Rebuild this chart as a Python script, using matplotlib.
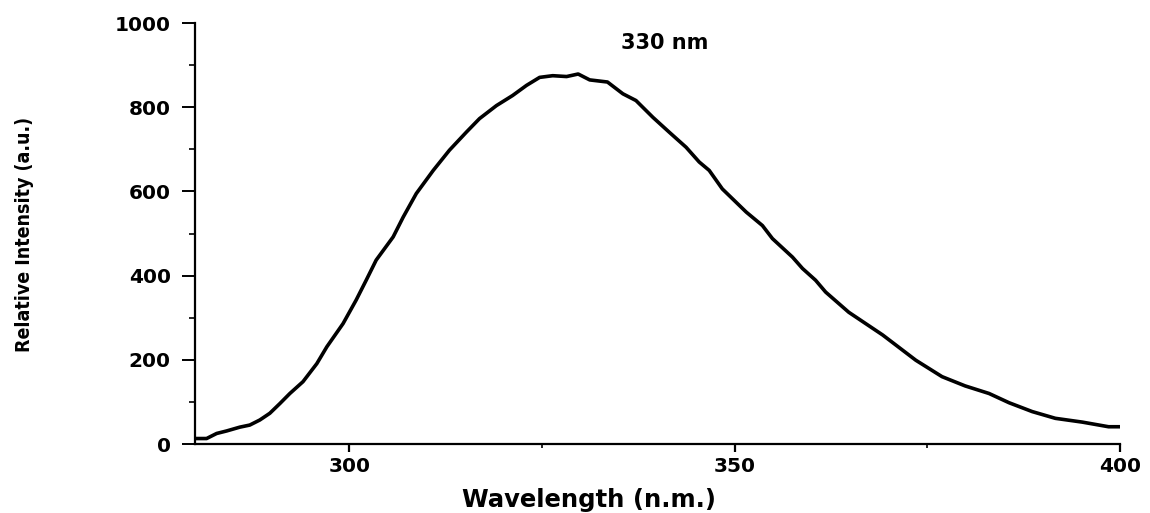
"""Emission spectrum of the sample, excitation peak labelled at 330 nm."""

import matplotlib

matplotlib.use("Agg")
import matplotlib.pyplot as plt
from matplotlib.ticker import MultipleLocator

# spectrum
wavelength = [280.2, 281.5, 282.8, 284.1, 285.8, 287.1, 288.4, 289.7, 291.0, 292.3,
              294.0, 295.8, 297.1, 299.2, 300.9, 302.2, 303.5, 305.7, 307.0, 308.7,
              310.9, 313.0, 315.2, 316.9, 319.1, 321.2, 323.0, 324.7, 326.4, 328.2,
              329.7, 331.2, 333.5, 335.5, 337.2, 339.4, 341.5, 343.7, 345.4, 346.7,
              348.4, 351.5, 353.6, 354.9, 357.5, 358.8, 360.5, 361.8, 364.8, 369.2,
              373.5, 376.9, 379.9, 383.0, 385.6, 388.6, 391.6, 395.1, 398.5, 399.8]
intensity = [13, 13, 25, 31, 40, 45, 57, 73, 96, 120,
             148, 191, 231, 286, 342, 389, 437, 492, 539, 595,
             650, 698, 741, 773, 804, 828, 852, 871, 875, 873,
             879, 865, 860, 832, 816, 776, 741, 705, 670, 650,
             606, 551, 519, 488, 444, 417, 389, 361, 313, 259,
             199, 160, 138, 120, 98, 77, 61, 52, 41, 41]

peak_label = "330 nm"
x_ticks = [300, 350, 400]
y_ticks = [0, 200, 400, 600, 800, 1000]

bold = {"family": "DejaVu Sans", "weight": "bold"}

fig = plt.figure(figsize=(11.5, 5.13), dpi=100)
ax = fig.add_axes([0.1696, 0.1345, 0.8044, 0.8205])

ax.plot(wavelength, intensity, color="black", lw=2.6, solid_joinstyle="round")

ax.set_xlim(280, 400)
ax.set_ylim(0, 1000)
ax.set_xticks(x_ticks)
ax.set_yticks(y_ticks)
ax.xaxis.set_minor_locator(MultipleLocator(25))
ax.yaxis.set_minor_locator(MultipleLocator(100))

for side in ("top", "right"):
    ax.spines[side].set_visible(False)
for side in ("left", "bottom"):
    ax.spines[side].set_linewidth(1.6)

ax.tick_params(axis="y", which="major", length=9.5, width=1.4, pad=8, direction="out")
ax.tick_params(axis="y", which="minor", length=4.5, width=1.2, direction="out")
ax.tick_params(axis="x", which="major", length=5.5, width=1.6, pad=4, direction="out")
ax.tick_params(axis="x", which="minor", length=3, width=1.2, direction="out")

for lab in ax.get_xticklabels() + ax.get_yticklabels():
    lab.set_fontfamily(bold["family"])
    lab.set_fontweight("bold")
    lab.set_fontsize(14.5)

ax.set_xlabel("Wavelength (n.m.)", fontsize=17.5, **bold)
ax.xaxis.set_label_coords(0.426, -0.105)
ax.set_ylabel("Relative Intensity (a.u.)", fontsize=14, fontstretch="condensed",
              fontweight="bold", family=["Liberation Sans Narrow", "DejaVu Sans"])
ax.yaxis.set_label_coords(-0.174, 0.499)

ax.text(340.9, 953, peak_label, ha="center", va="center", fontsize=15, **bold)

fig.savefig("out.png", dpi=100)
